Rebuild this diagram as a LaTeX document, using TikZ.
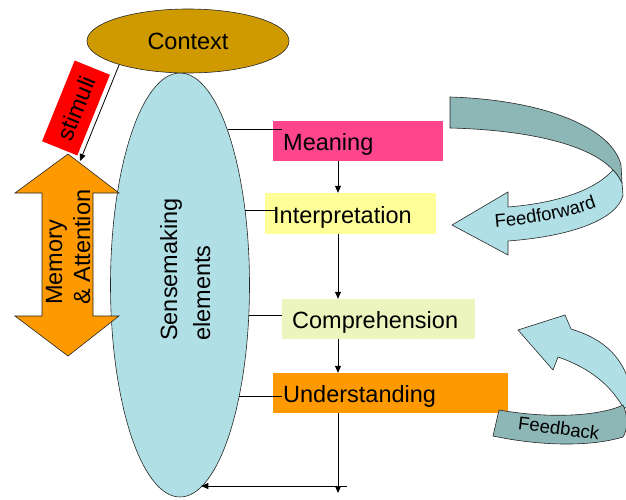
\documentclass[tikz,border=0pt]{standalone}
\usepackage{fontspec}
\setmainfont{Liberation Sans}
\usetikzlibrary{arrows.meta,shapes.geometric,decorations.text}

\definecolor{ctxgold}{RGB}{206,154,0}
\definecolor{sensecyan}{RGB}{176,224,230}
\definecolor{loopdark}{RGB}{141,182,182}
\definecolor{meaningpink}{RGB}{255,70,140}
\definecolor{interpyellow}{RGB}{255,255,153}
\definecolor{comppale}{RGB}{236,245,190}
\definecolor{underorange}{RGB}{255,153,0}
\definecolor{stimred}{RGB}{255,0,0}

\begin{document}
\begin{tikzpicture}[x=1pt,y=-1pt,
  lbl/.style={font=\fontsize{23.5}{28}\selectfont},
  vlbl/.style={lbl,rotate=90,anchor=base west,inner sep=0pt},
  stepbox/.style={lbl,anchor=west,inner ysep=0pt,inner xsep=10pt,
    minimum height=40pt,text height=19pt,text depth=0pt,align=left},
  conn/.style={line width=0.8pt},
  flow/.style={conn,-{Triangle[length=7pt,width=6pt]}},
  outline/.style={draw=black!85,line width=0.6pt},
]
\useasboundingbox (0,0) rectangle (626,500);
\clip (0,0) rectangle (626,500);

% sensemaking elements
\node[ellipse,outline,fill=sensecyan,minimum width=139pt,minimum height=424pt,
  inner sep=0pt] (sense) at (180,285) {};
\node[vlbl] (sense1) at (177,341) {Sensemaking};
\node[vlbl] (sense2) at (210,341) {elements};

% memory & attention double arrow
\draw[outline,fill=underorange] (68,154) -- (119,193) -- (93,193) -- (93,316)
  -- (119,316) -- (68,356) -- (15,316) -- (42,316) -- (42,193) -- (15,193) -- cycle;
\node[vlbl] (mem1) at (62,305) {Memory};
\node[vlbl] (mem2) at (90,305) {\& Attention};

% context
\node[ellipse,outline,fill=ctxgold,minimum width=202pt,minimum height=64pt,
  inner sep=0pt,lbl,text height=18pt,text depth=0pt] (ctx) at (188,41) {Context};

% stimuli
\node[lbl,fill=stimred,rotate=68,minimum width=87pt,minimum height=38pt,
  inner sep=0pt,text height=17pt,text depth=0pt] (stim) at (76,108) {stimuli};
\coordinate (stimend) at (80,161);
\draw[flow] (ctx.199) -- (stimend);

% steps
\node[stepbox,fill=meaningpink,text width=150pt,minimum height=39pt] (meaning) at (273,141) {Meaning};
\node[stepbox,fill=interpyellow,inner xsep=8pt,text width=155pt,minimum height=41pt] (interp) at (265,213.5) {Interpretation};
\node[stepbox,fill=comppale,text width=173pt] (comp) at (282,319) {Comprehension};
\node[stepbox,fill=underorange,text width=215pt] (under) at (273,393) {Understanding};

% links from the ellipse
\draw[conn] (sense.73) -- ([xshift=9pt]meaning.west |- sense.73);
\draw[conn] (sense.49) -- ([xshift=10pt]interp.west |- sense.49);
\draw[conn] (sense.-24) -- (comp.west |- sense.-24);
\draw[conn] (sense.-62) -- ([xshift=9pt]under.west |- sense.-62);

% flow down the steps
\coordinate (fx) at (338,0);
\draw[flow] (fx |- meaning.south) -- (fx |- interp.north);
\draw[flow] (fx |- interp.south) -- (fx |- comp.north);
\draw[flow] (fx |- comp.south) -- (fx |- under.north);
\coordinate (flowend) at (338,493);
\draw[flow] (fx |- under.south) -- (flowend);
\coordinate (retstart) at (347,486);
\draw[flow] (retstart) -- (retstart -| sense.-84);

% feedforward ribbon
\draw[outline,fill=loopdark] (450,97) .. controls (545,100) and (612,128) .. (621,165)
  -- (622,183) .. controls (619,177) and (616,173) .. (613,170)
  .. controls (590,145) and (530,130) .. (450,128) -- cycle;
\draw[outline,fill=sensecyan] (613,170) .. controls (595,190) and (558,203) .. (508,207)
  -- (508,192) -- (452,225) -- (508,255) -- (508,241)
  .. controls (575,236) and (618,218) .. (623,195) -- (622,183)
  .. controls (619,177) and (616,173) .. (613,170) -- cycle;
\path[decorate,decoration={text along path,text align=center,
  text={|\fontsize{18.5}{20}\selectfont|Feedforward}}]
  (490,228) .. controls (528,225) and (566,219) .. (602,205);

% feedback ribbon
\draw[outline,fill=sensecyan] (518,330) -- (565,315) -- (571,329)
  .. controls (604,339) and (626,358) .. (632,395) -- (632,410) -- (623,407)
  .. controls (610,385) and (590,368) .. (558,357) -- (553,370) -- cycle;
\draw[outline,fill=loopdark] (499,410) .. controls (550,419) and (600,416) .. (623,405)
  .. controls (628,415) and (628,430) .. (623,437)
  .. controls (590,447) and (540,446) .. (493,436) -- cycle;
\path[decorate,decoration={text along path,text align=center,
  text={|\fontsize{18.5}{20}\selectfont|Feedback}}]
  (512,429) .. controls (540,432) and (575,437) .. (604,441);
\end{tikzpicture}
\end{document}
